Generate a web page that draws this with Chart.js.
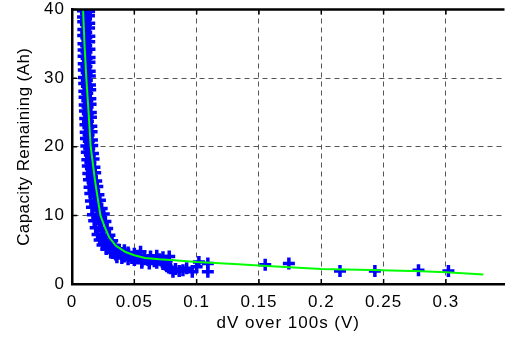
<!DOCTYPE html>
<html>
<head>
<meta charset="utf-8">
<script src="https://cdn.jsdelivr.net/npm/chart.js@4"></script>
<style>
  html, body { margin: 0; padding: 0; background: #fff; overflow: hidden; }
</style>
</head>
<body>
<canvas id="capChart" width="514" height="339"></canvas>
<script>
// --- Data ---
const xTicks = [0, 0.05, 0.1, 0.15, 0.2, 0.25, 0.3];
const xTickLabels = ['0', '0.05', '0.1', '0.15', '0.2', '0.25', '0.3'];
const yTicks = [0, 10, 20, 30, 40];
const yTickLabels = ['0', '10', '20', '30', '40'];

// titik pengukuran (biru)
const measX = [
  0.0088, 0.0112, 0.0137, 0.0089, 0.0113, 0.0136, 0.0090, 0.0112, 0.0138,
  0.0091, 0.0114, 0.0137, 0.0090, 0.0115, 0.0139, 0.0092, 0.0114, 0.0138,
  0.0093, 0.0116, 0.0140, 0.0093, 0.0117, 0.0141, 0.0094, 0.0116, 0.0140,
  0.0095, 0.0118, 0.0142, 0.0096, 0.0119, 0.0143, 0.0098, 0.0120, 0.0144,
  0.0099, 0.0122, 0.0146, 0.0101, 0.0123, 0.0147, 0.0102, 0.0125, 0.0149,
  0.0104, 0.0127, 0.0151, 0.0106, 0.0128, 0.0152, 0.0108, 0.0131, 0.0155,
  0.0110, 0.0133, 0.0157, 0.0112, 0.0135, 0.0160, 0.0115, 0.0138, 0.0162,
  0.0119, 0.0143, 0.0168, 0.0123, 0.0147, 0.0173, 0.0127, 0.0152, 0.0180,
  0.0131, 0.0158, 0.0186, 0.0136, 0.0165, 0.0194, 0.0141, 0.0172, 0.0203,
  0.0147, 0.0180, 0.0212, 0.0152, 0.0189, 0.0224, 0.0160, 0.0200, 0.0238,
  0.0168, 0.0212, 0.0255,
  0.0178, 0.0222, 0.0268, 0.0190, 0.0235, 0.0282, 0.0205, 0.0252, 0.0300,
  0.0222, 0.0272, 0.0322, 0.0245, 0.0295, 0.0345,
  0.0275, 0.0320, 0.0370, 0.0420,
  0.0310, 0.0350, 0.0400, 0.0450, 0.0500, 0.0550,
  0.0360, 0.0420, 0.0480, 0.0530, 0.0580, 0.0630, 0.0680, 0.0730, 0.0780,
  0.0400, 0.0450, 0.0500, 0.0560, 0.0610, 0.0660, 0.0700, 0.0760,
  0.0560, 0.0620, 0.0680, 0.0730, 0.0750, 0.0760, 0.0790,
  0.0810, 0.0830, 0.0860, 0.0890, 0.0920, 0.0965, 0.1000, 0.1018, 0.1090, 0.1090,
  0.1550, 0.1740, 0.2150, 0.2430, 0.2780, 0.3020
];
const measY = [
  39.8, 39.4, 39.7, 38.9, 38.6, 39.1, 38.2, 37.8, 38.0,
  37.1, 36.7, 37.3, 36.2, 35.9, 36.1, 35.0, 34.7, 35.3,
  34.1, 33.8, 34.2, 33.2, 32.9, 33.0, 32.1, 31.7, 32.3,
  31.2, 30.8, 31.0, 30.1, 29.7, 30.3, 29.2, 28.8, 29.0,
  28.1, 27.8, 28.3, 27.2, 26.7, 27.0, 26.1, 25.8, 26.2,
  25.2, 24.8, 25.0, 24.1, 23.7, 24.3, 23.2, 22.8, 23.0,
  22.1, 21.7, 22.2, 21.2, 20.8, 21.0, 20.1, 19.7, 20.2,
  19.2, 18.8, 19.0, 18.1, 17.7, 18.2, 17.2, 16.8, 17.0,
  16.1, 15.7, 16.2, 15.2, 14.8, 15.0, 14.1, 13.7, 14.2,
  13.2, 12.8, 13.0, 12.1, 11.7, 12.2, 11.2, 10.8, 11.0,
  10.1, 9.7, 10.2,
  9.2, 8.8, 9.1, 8.2, 7.8, 8.1, 7.2, 6.9, 7.1,
  6.4, 6.1, 6.3, 5.7, 5.4, 5.6,
  5.1, 4.8, 5.0, 4.9,
  4.6, 4.3, 4.5, 4.6, 4.4, 4.7,
  3.9, 4.0, 3.8, 4.1, 3.9, 4.0, 4.1, 3.9, 4.0,
  3.8, 3.6, 3.5, 3.3, 3.5, 3.3, 3.6, 3.4,
  3.1, 3.0, 3.1, 2.9, 2.8, 2.6, 2.3,
  1.8, 2.2, 1.9, 2.0, 2.3, 1.8, 2.5, 3.2, 3.0, 1.8,
  2.8, 3.0, 1.9, 1.9, 2.0, 1.9
];

// kurva fit (hijau)
const fitX = [0.0089, 0.0100, 0.0115, 0.0133, 0.0150, 0.0185, 0.0228, 0.0265, 0.0298,
  0.0350, 0.0430, 0.0500, 0.0586, 0.0700, 0.0820, 0.1000, 0.1300, 0.1600,
  0.2000, 0.2400, 0.2800, 0.3000, 0.3300];
const fitY = [40, 35, 30, 25, 20, 15, 10, 8.2, 6.8,
  5.6, 4.66, 4.2, 3.8, 3.6, 3.46, 3.2, 2.9, 2.6,
  2.2, 2.05, 1.85, 1.7, 1.4];

const FONT = { family: '"Liberation Sans", Arial, Helvetica, sans-serif', size: 17 };

// --- Plugin: kotak atas, tick ke dalam, judul sumbu Y ---
const matlabBox = {
  id: 'matlabBox',
  beforeDraw(chart) {
    chart.ctx.letterSpacing = '1px';
  },
  afterDraw(chart) {
    const { ctx, chartArea: a, scales } = chart;
    ctx.save();
    ctx.strokeStyle = '#000';
    ctx.lineWidth = 2.5;
    ctx.beginPath();
    ctx.moveTo(a.left - 1, a.top);
    ctx.lineTo(a.right, a.top);
    ctx.stroke();

    ctx.lineWidth = 1.5;
    ctx.beginPath();
    xTicks.forEach(v => {
      const px = scales.x.getPixelForValue(v);
      ctx.moveTo(px, a.bottom);
      ctx.lineTo(px, a.bottom - 5);
      ctx.moveTo(px, a.top);
      ctx.lineTo(px, a.top + 5);
    });
    yTicks.forEach(v => {
      const py = scales.y.getPixelForValue(v);
      ctx.moveTo(a.left, py);
      ctx.lineTo(a.left + 5, py);
    });
    ctx.stroke();

    // judul sumbu Y
    ctx.letterSpacing = '0.4px';
    ctx.fillStyle = '#000';
    ctx.font = FONT.size + 'px ' + FONT.family;
    ctx.textAlign = 'center';
    ctx.textBaseline = 'middle';
    ctx.translate(24, (a.top + a.bottom) / 2);
    ctx.rotate(-Math.PI / 2);
    ctx.fillText('Capacity Remaining (Ah)', 0, 0);
    ctx.restore();
  }
};

function initChart() {
  const ctx = document.getElementById('capChart').getContext('2d');

  const measData = measX.map((x, i) => ({ x: x, y: measY[i] }));
  const fitData = fitX.map((x, i) => ({ x: x, y: fitY[i] }));

  new Chart(ctx, {
    type: 'scatter',
    data: {
      datasets: [
        {
          label: 'Fit',
          data: fitData,
          showLine: true,
          borderColor: '#00ff00',
          borderWidth: 2,
          pointRadius: 0,
          fill: false
        },
        {
          label: 'Data',
          data: measData,
          pointStyle: 'cross',
          pointRadius: 6,
          borderColor: '#0000ff',
          backgroundColor: '#0000ff',
          pointBorderWidth: 3.5
        }
      ]
    },
    options: {
      responsive: false,
      animation: false,
      layout: { padding: { top: 7, left: 0, right: 0, bottom: 0 } },
      plugins: {
        legend: { display: false },
        tooltip: { enabled: false }
      },
      scales: {
        x: {
          type: 'linear',
          min: 0,
          max: 0.347,
          afterBuildTicks: scale => { scale.ticks = xTicks.map(v => ({ value: v })); },
          afterFit: scale => {
            scale.height = 55;
            scale.paddingLeft = 0; scale.paddingRight = 0;
          },
          ticks: {
            color: '#000',
            font: FONT,
            padding: 8,
            maxRotation: 0,
            callback: (v, i) => xTickLabels[i]
          },
          grid: { color: '#555', lineWidth: 1, drawTicks: false },
          border: { display: true, color: '#000', width: 2.5, dash: [5, 4] },
          title: {
            display: true,
            text: 'dV over 100s (V)',
            color: '#000',
            font: FONT,
            padding: { top: 0, bottom: 5 }
          }
        },
        y: {
          type: 'linear',
          min: 0,
          max: 40,
          afterBuildTicks: scale => { scale.ticks = yTicks.map(v => ({ value: v })); },
          afterFit: scale => {
            scale.width = 72;
            scale.paddingTop = 0; scale.paddingBottom = 0;
          },
          ticks: {
            color: '#000',
            font: FONT,
            padding: 7,
            callback: (v, i) => yTickLabels[i]
          },
          grid: { color: '#555', lineWidth: 1, drawTicks: false },
          border: { display: true, color: '#000', width: 2.5, dash: [5, 4] }
        }
      }
    },
    plugins: [matlabBox]
  });
}

initChart();
</script>
</body>
</html>
